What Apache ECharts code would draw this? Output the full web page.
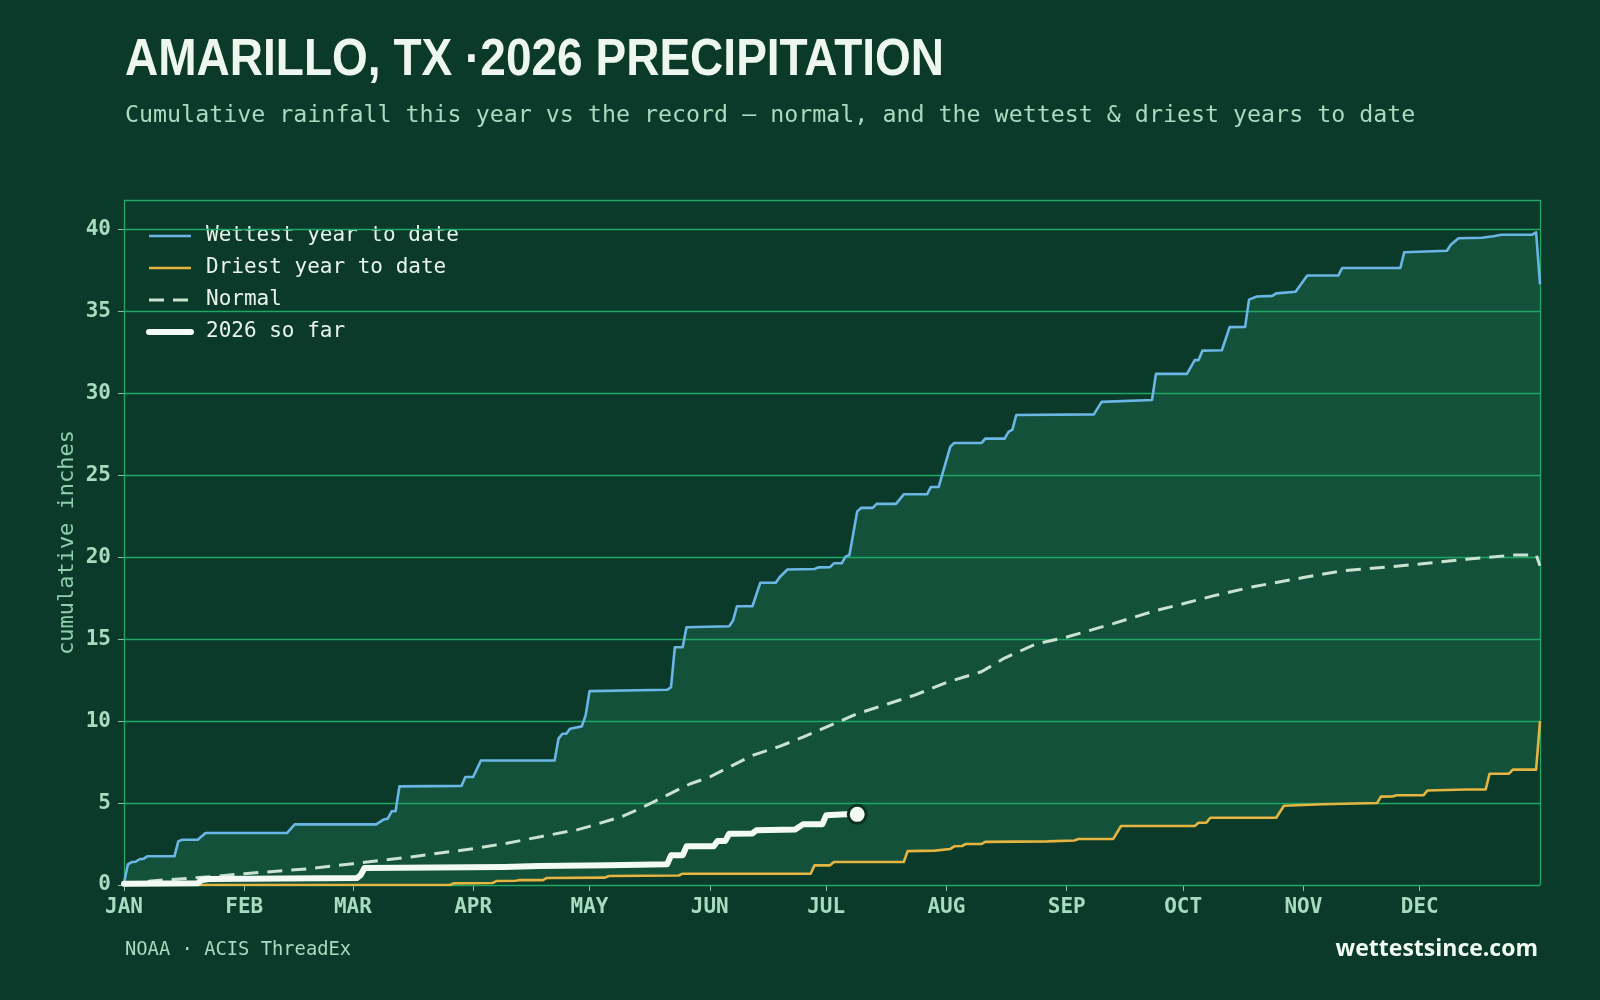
<!DOCTYPE html>
<html>
<head>
<meta charset="utf-8">
<script src="https://cdn.jsdelivr.net/npm/echarts@6/dist/echarts.min.js"></script>
<style>
html,body{margin:0;padding:0;background:#0b3a2a;}
#c{width:1600px;height:1000px;}
</style>
</head>
<body>
<div id="c"></div>
<script>
// ---- data (day of year, cumulative inches) ----
const monthStarts = [0,31,59,90,120,151,181,212,243,273,304,334];
const monthLabels = ['JAN','FEB','MAR','APR','MAY','JUN','JUL','AUG','SEP','OCT','NOV','DEC'];
const yTicks = [0,5,10,15,20,25,30,35,40];
const yMax = 41.8;
const dayMax = 365;

const wettestPts = [[0,0.1],[1,1.26],[2,1.4],[3,1.42],[4,1.57],[5,1.6],[6,1.75],[13,1.75],[14,2.66],[15,2.76],[19,2.76],[21,3.17],[42,3.17],[44,3.7],[65,3.7],[67,4.0],[68,4.05],[69,4.5],[70,4.5],[71,6.02],[87,6.05],[88,6.59],[90,6.59],[92,7.6],[111,7.6],[112,8.93],[113,9.23],[114,9.23],[115,9.54],[118,9.68],[119,10.35],[120,11.83],[140,11.91],[141,12.07],[142,14.51],[144,14.51],[145,15.73],[156,15.79],[157,16.14],[158,17.01],[162,17.01],[164,18.44],[168,18.44],[169,18.78],[171,19.25],[178,19.28],[179,19.38],[182,19.4],[183,19.63],[185,19.63],[186,20.04],[187,20.14],[189,22.8],[190,23.01],[193,23.01],[194,23.26],[199,23.26],[201,23.84],[207,23.84],[208,24.29],[210,24.29],[213,26.75],[214,26.97],[221,26.97],[222,27.24],[227,27.24],[228,27.65],[229,27.79],[230,28.68],[250,28.72],[252,29.48],[265,29.6],[266,31.19],[274,31.19],[276,32.03],[277,32.03],[278,32.61],[283,32.63],[285,34.04],[289,34.06],[290,35.72],[292,35.91],[296,35.95],[297,36.1],[302,36.2],[305,37.19],[313,37.19],[314,37.65],[329,37.65],[330,38.61],[341,38.7],[342,39.07],[344,39.47],[350,39.5],[353,39.59],[355,39.68],[363,39.68],[364,39.82],[365,36.65]];

const driestPts = [[0,0],[84,0],[85,0.1],[95,0.12],[96,0.24],[101,0.26],[102,0.3],[108,0.3],[109,0.43],[124,0.45],[125,0.55],[143,0.58],[144,0.69],[177,0.69],[178,1.2],[182,1.2],[183,1.4],[201,1.4],[202,2.07],[209,2.1],[213,2.2],[214,2.36],[216,2.38],[217,2.5],[221,2.5],[222,2.63],[238,2.66],[245,2.72],[246,2.81],[255,2.81],[257,3.6],[276,3.6],[277,3.8],[279,3.8],[280,4.1],[297,4.1],[299,4.84],[309,4.93],[323,5.0],[324,5.39],[327,5.4],[328,5.48],[335,5.48],[336,5.77],[346,5.83],[351,5.83],[352,6.79],[357,6.79],[358,7.04],[364,7.04],[365,10.0]];

const normalPts = [[0,0],[7,0.25],[22,0.5],[31,0.69],[48,1.0],[59,1.3],[74,1.71],[90,2.22],[98,2.52],[107,2.93],[117,3.38],[120,3.58],[128,4.15],[133,4.66],[139,5.37],[146,6.18],[151,6.59],[156,7.2],[162,7.91],[169,8.46],[175,9.02],[181,9.63],[189,10.45],[197,11.06],[204,11.6],[212,12.36],[221,13.01],[227,13.85],[235,14.7],[243,15.13],[255,15.95],[266,16.75],[273,17.16],[281,17.66],[291,18.2],[304,18.76],[314,19.17],[327,19.43],[334,19.59],[346,19.88],[358,20.13],[364,20.15],[365,19.48]];

const so2026Pts = [[0,0.08],[19,0.1],[20,0.3],[22,0.37],[60,0.42],[61,0.6],[62,1.04],[98,1.1],[107,1.16],[125,1.2],[140,1.26],[141,1.81],[144,1.81],[145,2.36],[152,2.36],[153,2.69],[155,2.69],[156,3.13],[162,3.15],[163,3.34],[173,3.38],[175,3.7],[180,3.7],[181,4.25],[186,4.31],[189,4.31]];

// ---- style ----
const BG = '#0b3a2a', BAND = '#13513b', GRID = '#1fa865', MINT = '#a6dcc0';
const C_WET = '#6cb6e6', C_DRY = '#e6b440', C_NORM = '#c9e2d2', C_NOW = '#f3faf5';
const chart = echarts.init(document.getElementById('c'), null, {renderer:'canvas'});

const gridLineData = yTicks.map(v => ({yAxis: v}))
  .concat([{yAxis: yMax}, {xAxis: 0}, {xAxis: dayMax}]);

chart.setOption({
  backgroundColor: BG,
  animation: false,
  grid: {left:124, right:60, top:200, bottom:115, containLabel:false},
  legend: {
    data: [
      {name:'Wettest year to date', itemStyle:{opacity:0}, lineStyle:{color:C_WET, width:2.6}},
      {name:'Driest year to date', itemStyle:{opacity:0}, lineStyle:{color:C_DRY, width:2.6}},
      {name:'Normal', itemStyle:{opacity:0}, lineStyle:{color:C_NORM, width:3, type:[15,9]}},
      {name:'2026 so far', itemStyle:{opacity:0}, lineStyle:{color:C_NOW, width:6, cap:'round'}}
    ],
    orient: 'vertical', left: 146, top: 225, padding: 0,
    itemWidth: 42, itemHeight: 14, itemGap: 10,
    textStyle: {color:'#e8f4ec', fontFamily:'DejaVu Sans Mono', fontSize:21, lineHeight:22, padding:[0,0,0,10]}
  },
  xAxis: {
    type:'value', min:0, max:dayMax,
    axisLine:{show:true, lineStyle:{color:GRID, width:1}},
    axisTick:{show:true, customValues: monthStarts, length:6, lineStyle:{color:'#8fbfa5'}},
    axisLabel:{customValues: monthStarts, margin:12, color:MINT, fontFamily:'DejaVu Sans Mono', fontWeight:'bold', fontSize:21,
      formatter: v => monthLabels[monthStarts.indexOf(v)] || ''},
    splitLine:{show:false}
  },
  yAxis: {
    type:'value', min:0, max:yMax,
    name:'cumulative inches', nameLocation:'middle', nameGap:46, nameRotate:90, nameMoveOverlap:false,
    nameTextStyle:{color:'#8fcfae', fontFamily:'DejaVu Sans Mono', fontSize:22},
    axisLine:{show:false},
    axisTick:{show:true, customValues: yTicks, length:6, lineStyle:{color:'#8fbfa5'}},
    axisLabel:{customValues: yTicks, margin:13, color:MINT, fontFamily:'DejaVu Sans Mono', fontWeight:'bold', fontSize:21},
    splitLine:{show:false}
  },
  series: [
    {name:'wetFill', type:'line', data: wettestPts, symbol:'none', silent:true, z:1,
      lineStyle:{width:0}, areaStyle:{color:BAND, opacity:1}},
    {name:'dryCover', type:'line', data: driestPts, symbol:'none', silent:true, z:2,
      lineStyle:{width:0}, areaStyle:{color:BG, opacity:1}},
    {name:'gridlines', type:'line', data: [], silent:true, z:3,
      markLine:{silent:true, symbol:['none','none'], label:{show:false}, animation:false,
        lineStyle:{color:GRID, width:1.3, type:'solid'}, emphasis:{disabled:true},
        data: gridLineData}},
    {name:'Wettest year to date', type:'line', data: wettestPts, symbol:'none', z:5,
      color:C_WET, lineStyle:{color:C_WET, width:2.6, join:'round'}},
    {name:'Driest year to date', type:'line', data: driestPts, symbol:'none', z:5,
      color:C_DRY, lineStyle:{color:C_DRY, width:2.6, join:'round'}},
    {name:'Normal', type:'line', data: normalPts, symbol:'none', z:5,
      color:C_NORM, lineStyle:{color:C_NORM, width:3, type:[15,9]}},
    {name:'2026 so far', type:'line', data: so2026Pts, symbol:'none', z:6,
      color:C_NOW, lineStyle:{color:C_NOW, width:6, cap:'round', join:'round'}},
    {name:'latest', type:'scatter', data:[so2026Pts[so2026Pts.length-1]], z:7, symbolSize:18,
      itemStyle:{color:C_NOW, borderColor:'#0a3022', borderWidth:3, opacity:1}}
  ],
  graphic: [
    {type:'text', left:125, top:35, scaleX:0.885, style:{text:'AMARILLO, TX ·2026 PRECIPITATION', fill:'#eef7ef',
      font:'bold 52px "Liberation Sans", sans-serif'}},
    {type:'text', left:125, top:104, style:{text:'Cumulative rainfall this year vs the record — normal, and the wettest & driest years to date',
      fill:'#a6dcc0', font:'23.3px "DejaVu Sans Mono", monospace'}},
    {type:'text', left:125, top:941, style:{text:'NOAA · ACIS ThreadEx', fill:'#a6dcc0', font:'18.8px "DejaVu Sans Mono", monospace'}},
    {type:'text', right:62, top:938, style:{text:'wettestsince.com', fill:'#f2faf4', font:'bold 23px "Open Sans", sans-serif'}}
  ]
});
</script>
</body>
</html>
